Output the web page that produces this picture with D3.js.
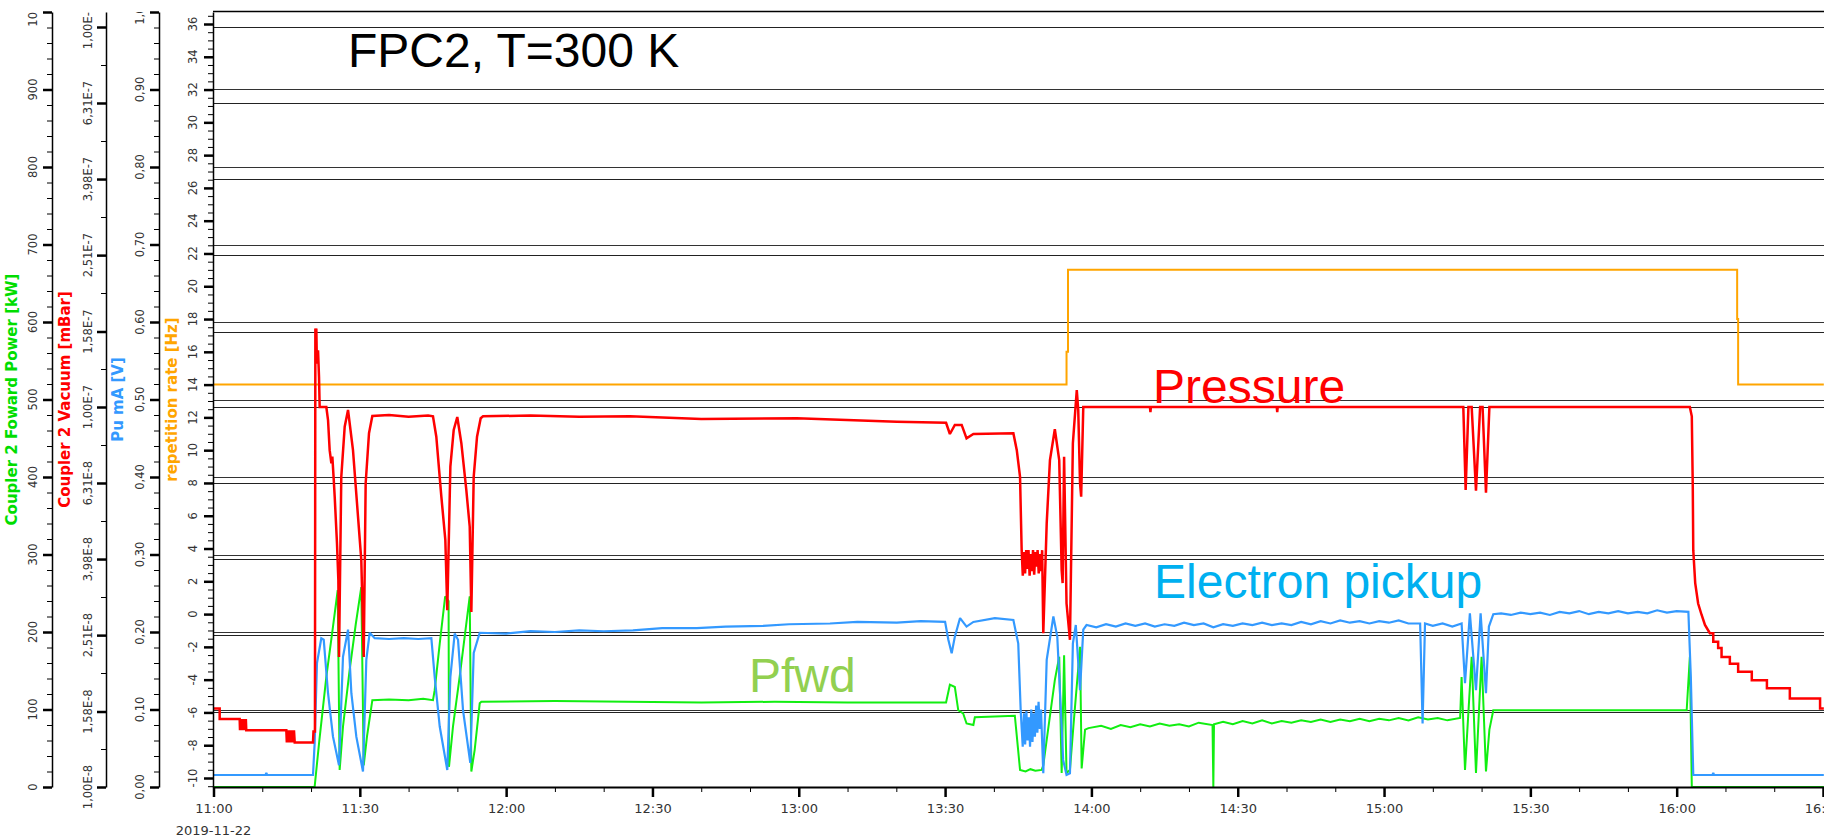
<!DOCTYPE html>
<html>
<head>
<meta charset="utf-8">
<script src="https://cdn.jsdelivr.net/npm/d3@7"></script>
<style>
  body { margin: 0; background: #fff; }
  svg { display: block; }
</style>
</head>
<body>
<svg id="chart" width="1824" height="839"></svg>
<script>
// ---- data -------------------------------------------------------------
const day = "2019-11-22";

// repetition rate [Hz]
const repRateHz = [
  ["11:00:00", 14], ["13:54:54", 14], ["13:54:54", 16], ["13:55:12", 16], ["13:55:12", 21],
  ["16:12:24", 21], ["16:12:24", 18], ["16:12:36", 18], ["16:12:36", 14], ["16:30:10", 14]
];

// Coupler 2 vacuum [mBar]
const vacuumMbar = [
  ["11:00:00", 1.61e-8], ["11:01:16", 1.61e-8], ["11:01:16", 1.51e-8],
  ["11:05:22", 1.51e-8], ["11:05:26", 1.41e-8], ["11:05:34", 1.51e-8], ["11:05:42", 1.41e-8],
  ["11:05:50", 1.51e-8], ["11:05:58", 1.41e-8], ["11:06:06", 1.51e-8], ["11:06:14", 1.41e-8],
  ["11:06:22", 1.51e-8], ["11:06:30", 1.41e-8], ["11:06:38", 1.51e-8], ["11:06:43", 1.41e-8],
  ["11:14:56", 1.41e-8], ["11:15:02", 1.31e-8], ["11:15:10", 1.41e-8], ["11:15:18", 1.31e-8],
  ["11:15:26", 1.41e-8], ["11:15:34", 1.31e-8], ["11:15:42", 1.41e-8], ["11:15:50", 1.31e-8],
  ["11:15:58", 1.41e-8], ["11:16:06", 1.31e-8], ["11:16:14", 1.41e-8], ["11:16:22", 1.31e-8],
  ["11:16:30", 1.41e-8], ["11:16:39", 1.31e-8],
  ["11:20:24", 1.31e-8], ["11:20:30", 1.40e-8], ["11:20:48", 1.40e-8], ["11:20:53", 1.61e-7],
  ["11:21:00", 1.45e-7], ["11:21:05", 1.61e-7], ["11:21:12", 1.30e-7], ["11:21:26", 1.41e-7],
  ["11:21:38", 1.20e-7], ["11:21:46", 1.00e-7], ["11:23:08", 1.00e-7], ["11:23:29", 9.24e-8],
  ["11:23:49", 7.70e-8], ["11:24:10", 7.11e-8], ["11:24:22", 7.40e-8], ["11:24:38", 6.50e-8],
  ["11:24:51", 5.81e-8], ["11:25:19", 4.38e-8], ["11:25:36", 3.50e-8], ["11:25:44", 2.20e-8],
  ["11:26:12", 6.55e-8], ["11:26:54", 8.87e-8], ["11:27:35", 9.82e-8], ["11:28:36", 7.70e-8],
  ["11:29:38", 5.14e-8], ["11:30:18", 3.96e-8], ["11:30:48", 2.20e-8], ["11:31:12", 6.30e-8],
  ["11:31:53", 8.53e-8], ["11:32:34", 9.47e-8], ["11:36:00", 9.52e-8], ["11:40:00", 9.42e-8],
  ["11:44:00", 9.50e-8], ["11:45:00", 9.45e-8], ["11:45:41", 8.35e-8], ["11:46:43", 5.81e-8],
  ["11:47:32", 4.47e-8], ["11:47:56", 2.92e-8], ["11:48:34", 6.97e-8], ["11:49:15", 8.70e-8],
  ["11:49:59", 9.41e-8], ["11:50:49", 8.03e-8], ["11:51:50", 6.05e-8], ["11:52:32", 4.84e-8],
  ["11:52:52", 2.89e-8], ["11:53:21", 6.55e-8], ["11:54:02", 8.35e-8], ["11:54:47", 9.34e-8],
  ["11:55:16", 9.45e-8], ["12:05:00", 9.50e-8], ["12:15:00", 9.42e-8], ["12:25:24", 9.45e-8],
  ["12:40:00", 9.30e-8], ["12:59:36", 9.34e-8], ["13:20:06", 9.15e-8], ["13:30:12", 9.09e-8],
  ["13:30:59", 8.49e-8], ["13:32:00", 8.97e-8], ["13:33:24", 8.97e-8], ["13:34:24", 8.27e-8],
  ["13:35:48", 8.49e-8], ["13:44:00", 8.53e-8], ["13:44:42", 7.70e-8], ["13:45:22", 6.55e-8],
  ["13:45:42", 4.20e-8], ["13:45:56", 3.60e-8], ["13:46:10", 4.15e-8], ["13:46:24", 3.65e-8],
  ["13:46:38", 4.20e-8], ["13:46:52", 3.75e-8], ["13:47:06", 4.20e-8], ["13:47:20", 3.60e-8],
  ["13:47:34", 4.10e-8], ["13:47:48", 3.70e-8], ["13:48:02", 4.20e-8], ["13:48:16", 3.62e-8],
  ["13:48:30", 4.15e-8], ["13:48:44", 3.80e-8], ["13:48:58", 4.20e-8], ["13:49:12", 3.65e-8],
  ["13:49:26", 4.10e-8], ["13:49:40", 3.70e-8], ["13:49:54", 4.20e-8],
  ["13:50:08", 2.54e-8], ["13:50:50", 4.94e-8], ["13:51:30", 7.25e-8], ["13:52:30", 8.74e-8],
  ["13:53:24", 7.25e-8], ["13:53:54", 3.72e-8], ["13:54:06", 3.44e-8], ["13:54:24", 7.40e-8],
  ["13:54:54", 3.04e-8], ["13:55:36", 2.44e-8], ["13:56:12", 8.03e-8], ["13:57:00", 1.108e-7],
  ["13:57:18", 9.82e-8], ["13:57:40", 6.30e-8], ["13:57:54", 5.81e-8], ["13:58:20", 1.00e-7],
  ["14:12:00", 1.00e-7], ["14:12:06", 9.70e-8], ["14:12:12", 1.00e-7], ["14:38:00", 1.00e-7],
  ["14:38:06", 9.70e-8], ["14:38:12", 1.00e-7], ["15:16:15", 1.00e-7], ["15:16:44", 6.05e-8],
  ["15:17:18", 1.00e-7], ["15:17:58", 1.00e-7], ["15:18:51", 6.02e-8], ["15:19:42", 1.00e-7],
  ["15:20:12", 1.00e-7], ["15:20:54", 5.95e-8], ["15:21:36", 1.00e-7], ["16:02:42", 1.00e-7],
  ["16:03:06", 9.45e-8], ["16:03:18", 6.16e-8], ["16:03:24", 4.20e-8], ["16:03:48", 3.44e-8],
  ["16:04:24", 3.04e-8], ["16:05:06", 2.84e-8], ["16:05:48", 2.67e-8], ["16:06:48", 2.54e-8],
  ["16:07:30", 2.54e-8], ["16:07:30", 2.41e-8], ["16:08:30", 2.41e-8], ["16:08:30", 2.32e-8],
  ["16:09:12", 2.32e-8], ["16:09:12", 2.20e-8], ["16:10:54", 2.20e-8], ["16:10:54", 2.11e-8],
  ["16:12:36", 2.11e-8], ["16:12:36", 2.01e-8], ["16:15:24", 2.01e-8], ["16:15:24", 1.91e-8],
  ["16:18:30", 1.91e-8], ["16:18:30", 1.82e-8], ["16:23:12", 1.82e-8], ["16:23:12", 1.71e-8],
  ["16:29:24", 1.71e-8], ["16:29:24", 1.61e-8], ["16:30:10", 1.61e-8]
];

// Coupler 2 forward power [kW]
const pfwdKW = [
  ["11:00:00", 0], ["11:20:44", 0], ["11:21:38", 56], ["11:23:08", 142], ["11:24:30", 207],
  ["11:25:28", 254], ["11:25:52", 22], ["11:26:33", 78], ["11:27:55", 151], ["11:29:10", 210],
  ["11:30:18", 258], ["11:30:48", 28], ["11:31:28", 65], ["11:32:34", 112], ["11:36:00", 113],
  ["11:40:00", 112], ["11:43:00", 114], ["11:45:00", 112], ["11:45:21", 125], ["11:46:23", 185],
  ["11:47:30", 246], ["11:48:12", 240], ["11:48:17", 26], ["11:49:06", 78], ["11:50:28", 142],
  ["11:52:32", 246], ["11:52:52", 20], ["11:53:33", 48], ["11:54:35", 108], ["11:54:55", 110],
  ["12:10:00", 111], ["12:25:00", 110], ["12:40:00", 109], ["12:55:00", 110], ["13:10:00", 109],
  ["13:30:12", 109], ["13:30:59", 132], ["13:32:00", 129], ["13:32:42", 99], ["13:33:42", 95],
  ["13:34:24", 82], ["13:35:48", 80], ["13:36:06", 90], ["13:44:18", 92], ["13:45:22", 22],
  ["13:46:30", 20], ["13:47:30", 23], ["13:48:30", 21], ["13:49:48", 22], ["13:50:08", 28],
  ["13:51:12", 78], ["13:52:30", 138], ["13:53:24", 168], ["13:53:54", 18], ["13:54:24", 170],
  ["13:54:54", 18], ["13:55:36", 22], ["13:56:18", 78], ["13:57:40", 181], ["13:58:00", 24],
  ["13:58:42", 74], ["13:59:24", 76], ["14:02:00", 79], ["14:04:00", 75], ["14:06:00", 80],
  ["14:08:00", 77], ["14:10:00", 81], ["14:12:00", 78], ["14:14:00", 82], ["14:16:00", 79],
  ["14:18:00", 81], ["14:20:00", 78], ["14:22:00", 83], ["14:24:50", 80], ["14:25:00", 0],
  ["14:25:08", 81], ["14:27:00", 84], ["14:29:00", 81], ["14:31:00", 85], ["14:33:00", 82],
  ["14:35:00", 86], ["14:37:00", 82], ["14:39:00", 85], ["14:41:00", 83], ["14:43:00", 86],
  ["14:45:00", 84], ["14:47:00", 87], ["14:49:00", 84], ["14:51:00", 87], ["14:53:00", 85],
  ["14:55:00", 88], ["14:57:00", 85], ["14:59:00", 88], ["15:01:00", 86], ["15:03:00", 89],
  ["15:05:00", 86], ["15:07:00", 90], ["15:09:00", 87], ["15:11:00", 89], ["15:13:00", 86],
  ["15:15:36", 89], ["15:15:54", 142], ["15:16:36", 22], ["15:17:58", 168], ["15:18:51", 18],
  ["15:20:00", 168], ["15:20:54", 20], ["15:21:36", 74], ["15:22:24", 99], ["15:40:00", 99],
  ["16:02:03", 99], ["16:02:42", 168], ["16:03:06", 0], ["16:30:10", 0]
];

// electron pickup, Pu mA [V]
const pickupV = [
  ["11:00:00", 0.0155], ["11:10:40", 0.0155], ["11:10:50", 0.018], ["11:11:00", 0.0155],
  ["11:20:24", 0.0155], ["11:20:44", 0.056], ["11:21:13", 0.160], ["11:22:06", 0.192],
  ["11:22:36", 0.190], ["11:23:29", 0.121], ["11:24:30", 0.065], ["11:25:44", 0.028],
  ["11:26:33", 0.168], ["11:27:35", 0.203], ["11:28:16", 0.121], ["11:29:17", 0.065],
  ["11:30:39", 0.020], ["11:31:20", 0.164], ["11:32:01", 0.199], ["11:33:03", 0.192],
  ["11:36:00", 0.191], ["11:39:00", 0.192], ["11:42:00", 0.191], ["11:44:40", 0.192],
  ["11:45:21", 0.142], ["11:46:23", 0.078], ["11:47:56", 0.022], ["11:48:34", 0.142],
  ["11:49:27", 0.198], ["11:50:08", 0.190], ["11:51:10", 0.099], ["11:52:39", 0.031],
  ["11:53:21", 0.173], ["11:54:35", 0.199], ["12:00:00", 0.198], ["12:05:00", 0.201],
  ["12:10:00", 0.200], ["12:15:00", 0.202], ["12:20:00", 0.201], ["12:26:00", 0.202],
  ["12:32:00", 0.205], ["12:39:06", 0.205], ["12:45:00", 0.207], ["12:52:42", 0.208],
  ["12:58:00", 0.210], ["13:06:24", 0.211], ["13:12:00", 0.213], ["13:20:06", 0.212],
  ["13:25:00", 0.214], ["13:30:00", 0.213], ["13:30:40", 0.190], ["13:31:21", 0.1725],
  ["13:32:00", 0.194], ["13:33:04", 0.218], ["13:34:24", 0.207], ["13:35:48", 0.213],
  ["13:40:12", 0.218], ["13:44:00", 0.2155], ["13:45:00", 0.185], ["13:45:30", 0.099],
  ["13:45:55", 0.052], ["13:46:10", 0.095], ["13:46:25", 0.055], ["13:46:40", 0.098],
  ["13:46:55", 0.060], ["13:47:10", 0.090], ["13:47:25", 0.052], ["13:47:40", 0.100],
  ["13:47:55", 0.058], ["13:48:10", 0.095], ["13:48:25", 0.065], ["13:48:40", 0.105],
  ["13:48:55", 0.070], ["13:49:10", 0.110], ["13:49:25", 0.075], ["13:49:40", 0.100],
  ["13:50:08", 0.0177], ["13:50:50", 0.164], ["13:52:12", 0.220], ["13:53:00", 0.194],
  ["13:53:54", 0.078], ["13:54:12", 0.035], ["13:54:54", 0.0155], ["13:55:36", 0.0177],
  ["13:56:12", 0.185], ["13:56:48", 0.209], ["13:57:40", 0.125], ["13:58:20", 0.203],
  ["13:59:00", 0.209], ["14:01:00", 0.206], ["14:03:00", 0.210], ["14:05:00", 0.207],
  ["14:07:00", 0.211], ["14:09:00", 0.208], ["14:11:00", 0.211], ["14:13:00", 0.207],
  ["14:15:00", 0.210], ["14:17:00", 0.208], ["14:19:00", 0.212], ["14:21:00", 0.209],
  ["14:23:00", 0.211], ["14:25:00", 0.206], ["14:27:00", 0.210], ["14:29:00", 0.208],
  ["14:31:00", 0.211], ["14:33:00", 0.209], ["14:35:00", 0.212], ["14:37:00", 0.209],
  ["14:39:00", 0.211], ["14:41:00", 0.209], ["14:43:00", 0.213], ["14:45:00", 0.210],
  ["14:47:00", 0.214], ["14:49:00", 0.211], ["14:51:00", 0.215], ["14:53:00", 0.212],
  ["14:55:00", 0.214], ["14:57:00", 0.211], ["14:59:00", 0.214], ["15:01:00", 0.212],
  ["15:03:00", 0.215], ["15:05:00", 0.211], ["15:07:24", 0.211], ["15:07:54", 0.082],
  ["15:08:24", 0.211], ["15:10:00", 0.208], ["15:12:00", 0.211], ["15:14:00", 0.207],
  ["15:15:54", 0.211], ["15:16:36", 0.134], ["15:17:36", 0.224], ["15:18:51", 0.125],
  ["15:19:48", 0.224], ["15:20:54", 0.121], ["15:21:30", 0.207], ["15:22:24", 0.223],
  ["15:24:00", 0.224], ["15:26:00", 0.222], ["15:28:00", 0.225], ["15:30:00", 0.223],
  ["15:32:00", 0.225], ["15:34:00", 0.222], ["15:36:00", 0.226], ["15:38:00", 0.224],
  ["15:40:00", 0.227], ["15:42:00", 0.223], ["15:44:00", 0.226], ["15:46:00", 0.224],
  ["15:48:00", 0.227], ["15:50:00", 0.224], ["15:52:00", 0.226], ["15:54:00", 0.224],
  ["15:56:00", 0.228], ["15:58:00", 0.225], ["16:00:00", 0.227], ["16:02:24", 0.226],
  ["16:02:54", 0.142], ["16:03:24", 0.0155], ["16:07:20", 0.0155], ["16:07:30", 0.018],
  ["16:07:40", 0.0155], ["16:30:10", 0.0155]
];

// axis ticks
const kwTicks   = [0, 100, 200, 300, 400, 500, 600, 700, 800, 900, 1000];
const mbarTicks = [1.00e-8, 1.58e-8, 2.51e-8, 3.98e-8, 6.31e-8, 1.00e-7, 1.58e-7, 2.51e-7, 3.98e-7, 6.31e-7, 1.00e-6];
const voltTicks = [0, 0.1, 0.2, 0.3, 0.4, 0.5, 0.6, 0.7, 0.8, 0.9, 1.0];
const hzTicks   = [-10, -8, -6, -4, -2, 0, 2, 4, 6, 8, 10, 12, 14, 16, 18, 20, 22, 24, 26, 28, 30, 32, 34, 36];
const timeTicks = ["11:00", "11:30", "12:00", "12:30", "13:00", "13:30", "14:00", "14:30", "15:00", "15:30", "16:00", "16:30"];

// ---- layout -----------------------------------------------------------
const W = 1824, H = 839;
const plotL = 213, plotT = 12, plotB = 787;
const axisFont = "'DejaVu Sans', sans-serif";
const noteFont = "'Liberation Sans', Arial, sans-serif";

const parseT = d3.timeParse("%Y-%m-%d %H:%M:%S");
const t = s => parseT(`${day} ${s.length === 5 ? s + ":00" : s}`);

const x = d3.scaleTime().domain([t("11:00"), t("16:30")]).range([213.5, 1823]);
const yKW = d3.scaleLinear().domain([0, 1000]).range([plotB, plotT]);
const yMbar = d3.scaleLog().domain([1e-8, Math.pow(10, -6 + 15 / 380)]).range([plotB, plotT]);
const yV = d3.scaleLinear().domain([0, 1]).range([plotB, plotT]);
const yHz = d3.scaleLinear().domain([-10.549, 36.732]).range([plotB, plotT]);

const svg = d3.select("#chart");
const defs = svg.append("defs");
defs.append("clipPath").attr("id", "plotClip").append("rect")
  .attr("x", plotL).attr("y", plotT - 2).attr("width", W - plotL).attr("height", plotB - plotT + 2);
// tick labels of the value axes stop at the top edge of the plot
defs.append("clipPath").attr("id", "labelClip").append("rect")
  .attr("x", 0).attr("y", plotT).attr("width", plotL).attr("height", H - plotT);

// ---- grid -------------------------------------------------------------
const grid = svg.append("g");
kwTicks.filter(v => v > 0 && v < 1000).forEach(v => {
  const y = Math.round(yKW(v)) + 0.5;
  grid.append("line").attr("x1", plotL).attr("x2", W).attr("y1", y).attr("y2", y)
    .attr("stroke", "#333").attr("stroke-width", 1.1);
});
mbarTicks.filter(v => v > 1.1e-8).forEach(v => {
  const y = Math.round(yMbar(v)) + 0.5;
  grid.append("line").attr("x1", plotL).attr("x2", W).attr("y1", y).attr("y2", y)
    .attr("stroke", "#222").attr("stroke-width", 1.1);
});
svg.append("line").attr("x1", plotL).attr("x2", W).attr("y1", plotT - 0.5).attr("y2", plotT - 0.5)
  .attr("stroke", "#000").attr("stroke-width", 1.5);

// ---- series -----------------------------------------------------------
const plot = svg.append("g").attr("clip-path", "url(#plotClip)");
function drawSeries(data, yScale, color, width) {
  const line = d3.line().x(d => x(t(d[0]))).y(d => yScale(d[1]));
  plot.append("path").datum(data).attr("d", line)
    .attr("fill", "none").attr("stroke", color).attr("stroke-width", width)
    .attr("stroke-linejoin", "miter").attr("stroke-miterlimit", 2);
}
drawSeries(repRateHz, yHz, "#ffa500", 2);
drawSeries(pfwdKW, yKW, "#11ee11", 2);
drawSeries(pickupV, yV, "#3399ff", 2.2);
drawSeries(vacuumMbar, yMbar, "#ff0000", 2.5);

// ---- y axes -----------------------------------------------------------
const labelLayer = svg.append("g").attr("clip-path", "url(#labelClip)");
function yAxis(xPos, scale, ticks, minorTicks, fmt, labelOffset, title, titleColor, titleX) {
  const g = svg.append("g").attr("transform", `translate(${xPos},0)`);
  g.append("g").call(d3.axisLeft(scale).tickValues(minorTicks).tickSize(5).tickFormat("").tickSizeOuter(0))
    .call(a => a.select(".domain").remove())
    .call(a => a.selectAll(".tick line").attr("stroke", "#000").attr("stroke-width", 1));
  const major = g.append("g").call(d3.axisLeft(scale).tickValues(ticks).tickSize(9).tickFormat("").tickSizeOuter(0));
  major.select(".domain").attr("stroke", "#000").attr("stroke-width", 1.5);
  major.selectAll(".tick line").attr("stroke", "#000").attr("stroke-width", 2.5);
  labelLayer.append("g").selectAll("text").data(ticks).join("text")
    .attr("transform", d => `translate(${xPos - labelOffset},${scale(d)}) rotate(-90)`)
    .attr("text-anchor", "middle").attr("dominant-baseline", "central")
    .attr("fill", "#333").style("font-family", axisFont).style("font-size", "11.5px")
    .text(fmt);
  svg.append("text")
    .attr("transform", `translate(${titleX},${(plotT + plotB) / 2}) rotate(-90)`)
    .attr("text-anchor", "middle").attr("dominant-baseline", "central")
    .attr("fill", titleColor).style("font-family", axisFont).style("font-size", "15px").style("font-weight", "bold")
    .text(title);
}

const kwMinor = d3.range(0, 1001, 20).filter(v => v % 100 !== 0);
const mbarMinor = d3.range(0, 10).map(k => Math.pow(10, -8 + 0.1 + 0.2 * k));
const voltMinor = d3.range(0, 51).filter(k => k % 5 !== 0).map(k => k / 50);
const hzMinor = d3.range(-21, 74).filter(k => k % 4 !== 0).map(k => k / 2);

yAxis(52, yKW, kwTicks, kwMinor, d => String(d), 19, "Coupler 2 Foward Power [kW]", "#00dd00", 12);
yAxis(106, yMbar, mbarTicks, mbarMinor,
  d => d.toExponential(2).replace(".", ",").replace("e", "E"), 18, "Coupler 2 Vacuum [mBar]", "#ff0000", 65);
yAxis(159, yV, voltTicks, voltMinor, d => d.toFixed(2).replace(".", ","), 19, "Pu mA [V]", "#3399ff", 118);
yAxis(213, yHz, hzTicks, hzMinor, d => String(d), 20, "repetition rate [Hz]", "#ffa500", 172);

// ---- time axis --------------------------------------------------------
const xMinor = d3.range(0, 331, 10).filter(m => m % 30 !== 0)
  .map(m => new Date(t("11:00").getTime() + m * 60000));
const xg = svg.append("g").attr("transform", `translate(0,${plotB})`);
xg.append("g").call(d3.axisBottom(x).tickValues(xMinor).tickSize(5).tickFormat("").tickSizeOuter(0))
  .call(a => a.select(".domain").remove())
  .call(a => a.selectAll(".tick line").attr("stroke", "#000").attr("stroke-width", 1));
const xMajor = xg.append("g").call(d3.axisBottom(x).tickValues(timeTicks.map(t))
  .tickSize(10).tickFormat(d3.timeFormat("%H:%M")).tickSizeOuter(0));
xMajor.select(".domain").attr("stroke", "#000").attr("stroke-width", 2)
  .attr("d", `M${plotL},0.5H${W}`);
xMajor.selectAll(".tick line").attr("stroke", "#000").attr("stroke-width", 2.5);
xMajor.selectAll(".tick text").attr("y", 21).attr("dy", null).attr("dominant-baseline", "central")
  .attr("fill", "#333").style("font-family", axisFont).style("font-size", "13px");
svg.append("text").attr("x", x(t("11:00"))).attr("y", 830).attr("text-anchor", "middle")
  .attr("dominant-baseline", "central").attr("fill", "#333")
  .style("font-family", axisFont).style("font-size", "13px").text(day);

// ---- annotations ------------------------------------------------------
const notes = [
  { text: "FPC2, T=300 K", x: 348, y: 67, color: "#000" },
  { text: "Pressure", x: 1153, y: 403, color: "#ff0000" },
  { text: "Electron pickup", x: 1154, y: 598, color: "#00b0f0" },
  { text: "Pfwd", x: 749, y: 692, color: "#92d050" }
];
svg.selectAll("text.note").data(notes).join("text").attr("class", "note")
  .attr("x", d => d.x).attr("y", d => d.y).attr("fill", d => d.color)
  .style("font-family", noteFont).style("font-size", "48px").text(d => d.text);
</script>
</body>
</html>
